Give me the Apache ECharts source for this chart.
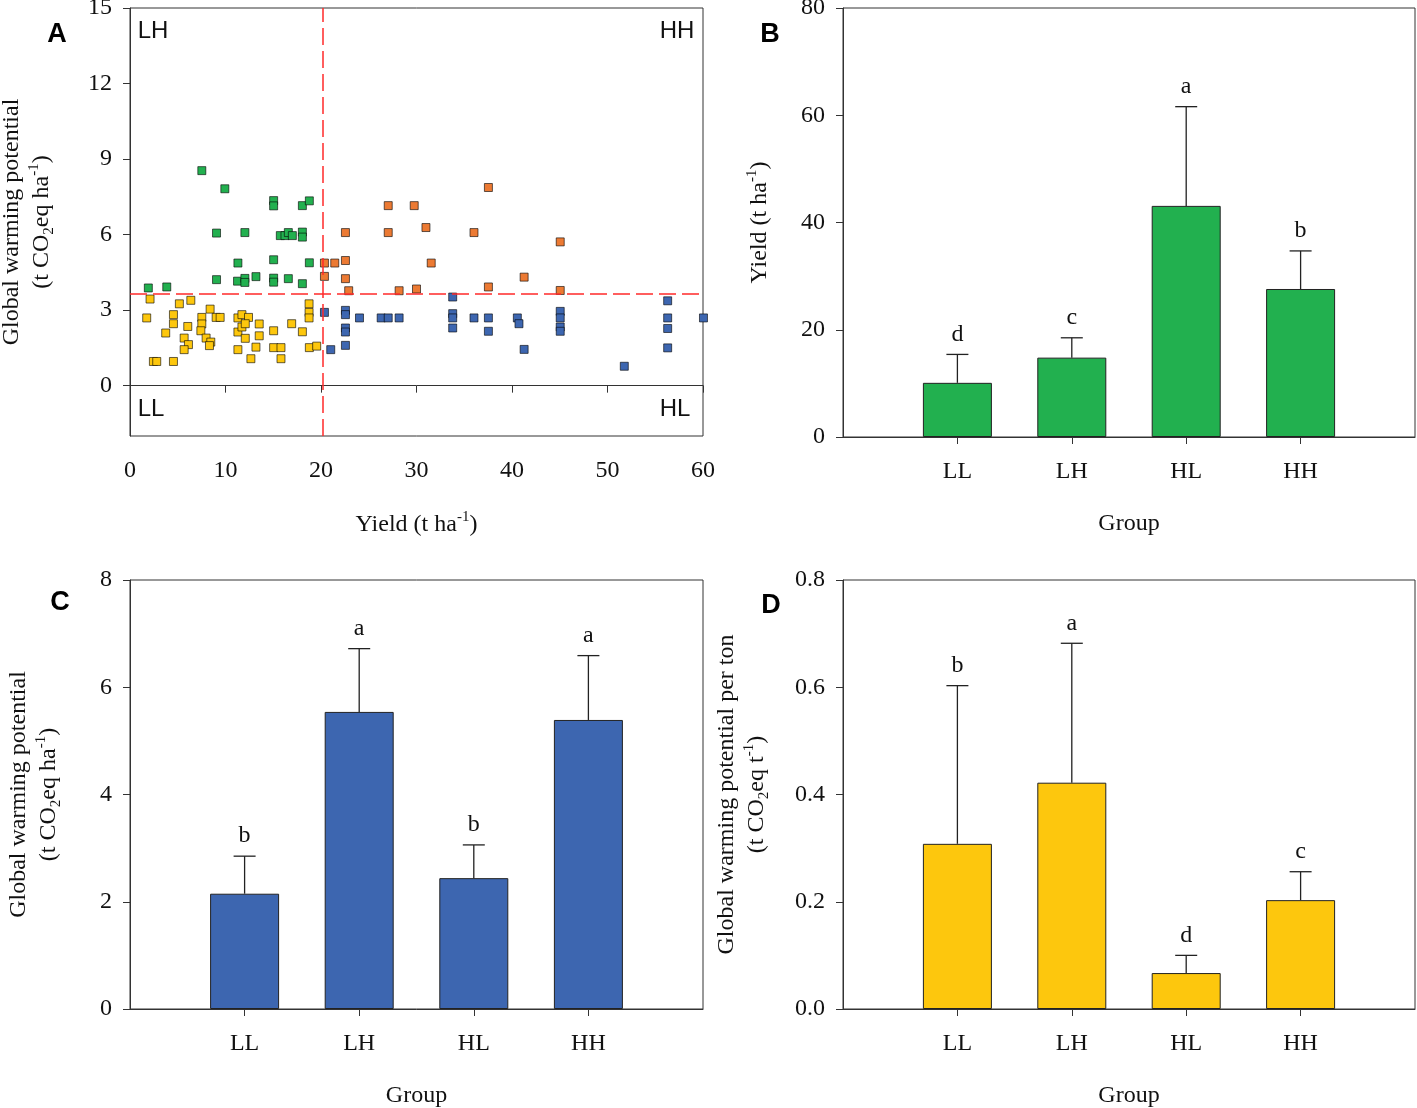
<!DOCTYPE html>
<html>
<head>
<meta charset="utf-8">
<script src="https://cdn.jsdelivr.net/npm/echarts@6/dist/echarts.min.js"></script>
<style>
html,body{margin:0;padding:0;background:#fff;}
#chart{width:1417px;height:1108px;}
</style>
</head>
<body>
<div id="chart"></div>
<script>
// ---------- Data ----------
const groups = ['LL', 'LH', 'HL', 'HH'];

// Panel A scatter points [yield, GWP]
const llPoints = [[2.1,3.44],[5.17,3.25],[6.37,3.39],[8.39,3.04],[18.75,3.25],[1.75,2.69],[4.55,2.82],[4.55,2.46],[6.05,2.35],[7.52,2.71],[7.52,2.45],[9.02,2.71],[9.44,2.71],[3.74,2.09],[7.42,2.18],[5.67,1.89],[6.12,1.63],[5.67,1.43],[7.97,1.89],[8.46,1.73],[8.32,1.59],[2.45,0.96],[2.8,0.96],[4.55,0.96],[11.3,2.69],[11.72,2.82],[12.41,2.71],[11.3,2.13],[11.72,2.33],[12.07,2.46],[13.53,2.45],[13.53,1.98],[12.07,1.88],[15.04,2.18],[16.93,2.46],[18.05,2.14],[18.75,2.91],[18.75,2.69],[11.3,1.43],[13.19,1.53],[12.66,1.07],[15.04,1.51],[15.81,1.51],[15.81,1.07],[18.78,1.51],[19.55,1.57]];
const lhPoints = [[7.52,8.54],[9.93,7.82],[15.04,7.35],[15.04,7.14],[18.05,7.15],[18.78,7.34],[9.06,6.06],[12.03,6.08],[15.74,5.96],[16.23,5.96],[16.58,6.08],[17.0,5.96],[18.05,6.1],[18.05,5.9],[11.3,4.87],[15.04,5.0],[18.78,4.88],[1.92,3.88],[3.85,3.92],[9.06,4.21],[11.26,4.15],[12.03,4.26],[12.03,4.1],[13.19,4.33],[15.04,4.27],[15.04,4.11],[16.58,4.25],[18.05,4.05]];
const hhPoints = [[20.36,4.87],[21.44,4.87],[22.56,4.97],[31.54,4.87],[20.36,4.34],[22.56,4.25],[22.9,3.77],[28.18,3.77],[30.0,3.84],[37.53,3.92],[27.04,7.15],[29.76,7.15],[37.53,7.87],[22.56,6.08],[27.04,6.08],[30.99,6.28],[36.02,6.08],[45.05,5.71],[41.27,4.31],[45.05,3.78]];
const hlPoints = [[20.36,2.91],[22.56,2.99],[22.56,2.82],[22.56,2.29],[22.56,2.13],[22.56,1.6],[21.02,1.43],[24.03,2.69],[26.3,2.69],[27.04,2.69],[28.18,2.69],[33.79,3.52],[33.79,2.86],[33.79,2.69],[33.79,2.29],[36.02,2.69],[37.53,2.69],[37.53,2.16],[40.56,2.69],[40.73,2.46],[41.27,1.44],[45.05,2.95],[45.05,2.69],[45.05,2.33],[45.05,2.16],[51.76,0.77],[56.3,3.37],[56.3,2.69],[56.3,2.27],[56.3,1.5],[60.05,2.69]];
const yieldThreshold = 20.2;
const gwpThreshold = 3.65;
const scatterYTicks = [0, 3, 6, 9, 12, 15];

// Panel B: yield by group
const yieldMean = [10.1, 14.8, 43.1, 27.6];
const yieldErr = [5.3, 3.7, 18.5, 7.1];
const yieldLetters = ['d', 'c', 'a', 'b'];
// Panel C: GWP by group
const gwpMean = [2.15, 5.54, 2.44, 5.39];
const gwpErr = [0.70, 1.18, 0.62, 1.20];
const gwpLetters = ['b', 'a', 'b', 'a'];
// Panel D: GWP per ton by group
const gwptMean = [0.308, 0.422, 0.067, 0.203];
const gwptErr = [0.295, 0.26, 0.033, 0.053];
const gwptLetters = ['b', 'a', 'd', 'c'];

// ---------- Styles ----------
const SERIF = 'Liberation Serif';
const SANS = 'Liberation Sans';
const AX = '#333';
const TXT = '#111';
const C_GREEN = '#22B04F';
const C_BLUE = '#3D66B0';
const C_YELLOW = '#FDC70D';
const C_ORANGE = '#EC7A33';

const rich = {
  sub: {fontSize: 15, fontFamily: SERIF, color: TXT, lineHeight: 14, verticalAlign: 'bottom'},
  sup: {fontSize: 15, fontFamily: SERIF, color: TXT, lineHeight: 14, verticalAlign: 'top'}
};
const nameStyle = {fontSize: 24, fontFamily: SERIF, color: TXT, lineHeight: 30, rich: rich};

const catAxisData = [''].concat(groups, ['']);

function xCat(gi) {
  return {
    type: 'category', gridIndex: gi, data: catAxisData, boundaryGap: false,
    axisLine: {show: true, lineStyle: {color: AX, width: 1}},
    axisTick: {show: true, length: 7, lineStyle: {color: AX}, interval: function (i) { return i > 0 && i < 5; }},
    axisLabel: {interval: 0, fontSize: 24, fontFamily: SERIF, color: TXT, margin: 23},
    splitLine: {show: false},
    name: 'Group', nameLocation: 'middle', nameGap: 72, nameTextStyle: nameStyle
  };
}
function yVal(gi, min, max, interval, name, gap, fmt) {
  return {
    type: 'value', gridIndex: gi, min: min, max: max, interval: interval,
    axisLine: {show: true, lineStyle: {color: AX, width: 1}},
    axisTick: {show: true, length: 7, lineStyle: {color: AX}},
    axisLabel: {fontSize: 24, fontFamily: SERIF, color: TXT, margin: 18, formatter: fmt},
    splitLine: {show: false},
    name: name, nameLocation: 'middle', nameGap: gap, nameRotate: 90, nameTextStyle: nameStyle
  };
}
function barSeries(gi, means, color) {
  return {
    type: 'bar', xAxisIndex: gi, yAxisIndex: gi, barWidth: 69,
    data: means.map(function (v, i) { return [i + 1, v]; }),
    itemStyle: {color: color, borderColor: '#222', borderWidth: 1},
    silent: true
  };
}
function errSeries(gi, means, errs, letters) {
  return {
    type: 'custom', xAxisIndex: gi, yAxisIndex: gi, z: 5, silent: true,
    data: means.map(function (v, i) { return [i + 1, v, v + errs[i]]; }),
    encode: {x: 0, y: [1, 2]},
    renderItem: function (params, api) {
      const base = api.coord([api.value(0), api.value(1)]);
      const top = api.coord([api.value(0), api.value(2)]);
      const ls = {stroke: '#222', lineWidth: 1.3};
      return {
        type: 'group',
        children: [
          {type: 'line', shape: {x1: base[0], y1: base[1], x2: top[0], y2: top[1]}, style: ls},
          {type: 'line', shape: {x1: top[0] - 11, y1: top[1], x2: top[0] + 11, y2: top[1]}, style: ls},
          {type: 'text', x: top[0], y: top[1] - 8, style: {text: letters[params.dataIndex], fontSize: 24, fontFamily: SERIF, fill: TXT, align: 'center', verticalAlign: 'bottom'}}
        ]
      };
    }
  };
}
function scatter(points, color, extra) {
  const s = {
    type: 'scatter', xAxisIndex: 0, yAxisIndex: 0, data: points, symbol: 'rect', symbolSize: 8,
    itemStyle: {color: color, borderColor: 'rgba(0,0,0,0.6)', borderWidth: 1, opacity: 1},
    clip: false, silent: true
  };
  return Object.assign(s, extra || {});
}

const gridBase = {show: true, borderColor: AX, borderWidth: 1, backgroundColor: 'transparent', containLabel: false, outerBoundsMode: 'none'};

const option = {
  animation: false,
  backgroundColor: '#fff',
  grid: [
    Object.assign({left: 130, top: 8, width: 573, height: 428}, gridBase),
    Object.assign({left: 843, top: 8, width: 572, height: 429}, gridBase),
    Object.assign({left: 130, top: 580, width: 573, height: 429}, gridBase),
    Object.assign({left: 843, top: 580, width: 572, height: 429}, gridBase)
  ],
  xAxis: [
    {
      type: 'value', gridIndex: 0, min: 0, max: 60, interval: 10,
      axisLine: {show: true, lineStyle: {color: AX, width: 1}},
      axisTick: {show: true, length: 7, lineStyle: {color: AX}},
      axisLabel: {fontSize: 24, fontFamily: SERIF, color: TXT, margin: 23},
      splitLine: {show: false},
      name: 'Yield (t ha{sup|-1})', nameLocation: 'middle', nameGap: 74, nameTextStyle: nameStyle
    },
    xCat(1), xCat(2), xCat(3)
  ],
  yAxis: [
    {
      type: 'value', gridIndex: 0, min: -2, max: 15,
      axisLine: {show: true, lineStyle: {color: AX, width: 1}},
      axisTick: {show: true, length: 7, lineStyle: {color: AX}, customValues: scatterYTicks},
      axisLabel: {fontSize: 24, fontFamily: SERIF, color: TXT, margin: 18, customValues: scatterYTicks},
      splitLine: {show: false},
      name: 'Global warming potential\n(t CO{sub|2}eq ha{sup|-1})', nameLocation: 'middle', nameGap: 73, nameRotate: 90, nameTextStyle: nameStyle
    },
    yVal(1, 0, 80, 20, 'Yield (t ha{sup|-1})', 68),
    yVal(2, 0, 8, 2, 'Global warming potential\n(t CO{sub|2}eq ha{sup|-1})', 66),
    yVal(3, 0, 0.8, 0.2, 'Global warming potential per ton\n(t CO{sub|2}eq t{sup|-1})', 71, function (v) { return v.toFixed(1); })
  ],
  series: [
    scatter(llPoints, C_YELLOW),
    scatter(lhPoints, C_GREEN),
    scatter(hhPoints, C_ORANGE),
    scatter(hlPoints, C_BLUE, {
      markLine: {
        silent: true, symbol: 'none', label: {show: false},
        lineStyle: {color: '#FF2A2A', width: 1.5, type: [17, 6]},
        data: [{xAxis: yieldThreshold}, {yAxis: gwpThreshold}]
      }
    }),
    barSeries(1, yieldMean, C_GREEN), errSeries(1, yieldMean, yieldErr, yieldLetters),
    barSeries(2, gwpMean, C_BLUE), errSeries(2, gwpMean, gwpErr, gwpLetters),
    barSeries(3, gwptMean, C_YELLOW), errSeries(3, gwptMean, gwptErr, gwptLetters)
  ],
  graphic: [
    {type: 'text', x: 57, y: 35, style: {text: 'A', fontSize: 27, fontWeight: 'bold', fontFamily: SANS, fill: '#000', align: 'center', verticalAlign: 'middle'}},
    {type: 'text', x: 770, y: 35, style: {text: 'B', fontSize: 27, fontWeight: 'bold', fontFamily: SANS, fill: '#000', align: 'center', verticalAlign: 'middle'}},
    {type: 'text', x: 60, y: 603, style: {text: 'C', fontSize: 27, fontWeight: 'bold', fontFamily: SANS, fill: '#000', align: 'center', verticalAlign: 'middle'}},
    {type: 'text', x: 771, y: 606, style: {text: 'D', fontSize: 27, fontWeight: 'bold', fontFamily: SANS, fill: '#000', align: 'center', verticalAlign: 'middle'}},
    {type: 'text', x: 153, y: 31, style: {text: 'LH', fontSize: 24, fontFamily: SANS, fill: TXT, align: 'center', verticalAlign: 'middle'}},
    {type: 'text', x: 677, y: 31, style: {text: 'HH', fontSize: 24, fontFamily: SANS, fill: TXT, align: 'center', verticalAlign: 'middle'}},
    {type: 'text', x: 151, y: 409, style: {text: 'LL', fontSize: 24, fontFamily: SANS, fill: TXT, align: 'center', verticalAlign: 'middle'}},
    {type: 'text', x: 675, y: 409, style: {text: 'HL', fontSize: 24, fontFamily: SANS, fill: TXT, align: 'center', verticalAlign: 'middle'}}
  ]
};

const chart = echarts.init(document.getElementById('chart'), null, {renderer: 'canvas'});
chart.setOption(option);
</script>
</body>
</html>
